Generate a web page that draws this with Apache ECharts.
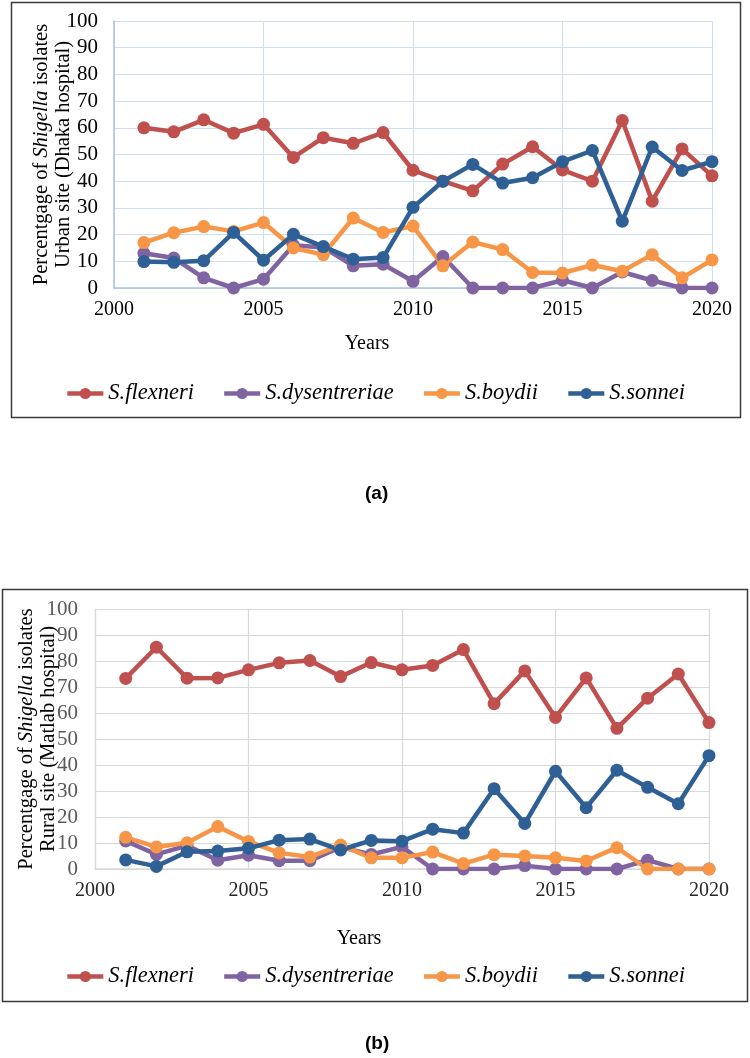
<!DOCTYPE html>
<html>
<head>
<meta charset="utf-8">
<script src="https://cdn.jsdelivr.net/npm/echarts@6/dist/echarts.min.js"></script>
<style>html,body{margin:0;padding:0;background:#fff}#c{width:750px;height:1058px}</style>
</head>
<body>
<div id="c"></div>
<script>
const years = [2001,2002,2003,2004,2005,2006,2007,2008,2009,2010,2011,2012,2013,2014,2015,2016,2017,2018,2019,2020];
const seriesNames = ['S.flexneri','S.dysentreriae','S.boydii','S.sonnei'];
const colors = ['#c0504d','#8064a2','#f79646','#2e5f95'];
const xTicks = [2000,2005,2010,2015,2020];
const yTicks = [0,10,20,30,40,50,60,70,80,90,100];

// (a) Urban site (Dhaka hospital)
const urbanFlexneri     = [60,58.5,63,58,61.3,48.9,56.3,54.2,58.2,44.1,40,36.4,46.4,52.9,44.2,40,62.7,32.5,52.1,42];
const urbanDysentreriae = [13,11.2,3.8,0,3.3,16,15.2,8.3,8.9,2.5,11.8,0,0,0,2.9,0,6,2.8,0,0];
const urbanBoydii       = [17,20.7,23,21.2,24.5,15,12.5,26.2,20.8,23.2,8.3,17.2,14.4,5.8,5.6,8.6,6.3,12.5,3.8,10.5];
const urbanSonnei       = [9.9,9.6,10.2,20.8,10.4,20.1,15.5,10.8,11.4,30.2,40,46.3,39.3,41.3,47.3,51.5,25,52.8,44,47.3];

// (b) Rural site (Matlab hospital)
const ruralFlexneri     = [73.3,85.3,73.4,73.5,76.6,79.3,80.2,74,79.4,76.6,78.3,84.4,63.6,76.2,58.3,73.5,54.1,65.7,75,56.3];
const ruralDysentreriae = [10.8,5.6,9,3.4,5.3,3.2,3.2,8.4,5.6,8.5,0,0,0,1.3,0,0,0,3.4,0,0];
const ruralBoydii       = [12.2,8.5,10.1,16.3,10.6,6.2,4.6,9.2,4.3,4.3,6.5,2.1,5.5,5,4.3,3.1,8.2,0,0,0];
const ruralSonnei       = [3.5,1,6.6,6.9,8,11.1,11.5,7.3,11,10.7,15.3,13.8,30.9,17.5,37.6,23.6,38,31.4,25.1,43.6];

const urbanData = [urbanFlexneri, urbanDysentreriae, urbanBoydii, urbanSonnei];
const ruralData = [ruralFlexneri, ruralDysentreriae, ruralBoydii, ruralSonnei];

const serif = '"Liberation Serif", "Times New Roman", serif';

function mkSeries(dataSets, idx) {
  return dataSets.map((arr, i) => ({
    name: seriesNames[i],
    type: 'line',
    xAxisIndex: idx, yAxisIndex: idx,
    data: years.map((y, k) => [y, arr[k]]),
    symbol: 'circle',
    symbolSize: 13,
    lineStyle: { width: 4.5, color: colors[i] },
    itemStyle: { color: colors[i] },
    emphasis: { disabled: true },
    animation: false
  }));
}

const chart = echarts.init(document.getElementById('c'), null, { renderer: 'canvas' });

const topGrid = '#cfdef2', topAxis = '#a9c3e6';
const botGrid = '#d9d9d9';

const legendBase = {
  data: seriesNames,
  itemWidth: 36, itemHeight: 14, itemGap: 28,
  left: 'center',
  lineStyle: { width: 4.5 },
  textStyle: { fontFamily: serif, fontStyle: 'italic', fontSize: 22.5, color: '#000' }
};

const yearFmt = v => String(v);

const titleRich = {
  a: { fontFamily: serif, fontSize: 20.5, color: '#000', lineHeight: 22 },
  i: { fontFamily: serif, fontSize: 20.5, color: '#000', fontStyle: 'italic', lineHeight: 22 }
};

const option = {
  backgroundColor: '#fff',
  color: colors,
  animation: false,
  textStyle: { fontFamily: serif },
  grid: [
    { left: 114, right: 38, top: 21, height: 267 },
    { left: 95, right: 41, top: 609, height: 260 }
  ],
  xAxis: [
    {
      gridIndex: 0, type: 'value', min: 2000, max: 2020, interval: 5,
      name: 'Years', nameLocation: 'middle', nameGap: 46, nameMoveOverlap: false,
      nameTextStyle: { fontFamily: serif, fontSize: 20, color: '#000', padding: [0, 92, 0, 0] },
      axisLine: { lineStyle: { color: topAxis, width: 1.5 } },
      axisTick: { show: false },
      axisLabel: { fontFamily: serif, fontSize: 20, color: '#000', margin: 12, formatter: yearFmt },
      splitLine: { show: true, lineStyle: { color: topGrid, width: 1 } }
    },
    {
      gridIndex: 1, type: 'value', min: 2000, max: 2020, interval: 5,
      name: 'Years', nameLocation: 'middle', nameGap: 60, nameMoveOverlap: false,
      nameTextStyle: { fontFamily: serif, fontSize: 20, color: '#000', padding: [0, 86, 0, 0] },
      axisLine: { lineStyle: { color: botGrid, width: 1.5 } },
      axisTick: { show: false },
      axisLabel: { fontFamily: serif, fontSize: 20, color: '#262626', margin: 12, formatter: yearFmt },
      splitLine: { show: true, lineStyle: { color: botGrid, width: 1.2 } }
    }
  ],
  yAxis: [
    {
      gridIndex: 0, type: 'value', min: 0, max: 100, interval: 10,
      name: '{a|Percentgage of }{i|Shigella}{a| isolates}\n{a|Urban site (Dhaka hospital)}',
      nameLocation: 'middle', nameGap: 39, nameRotate: 90, nameMoveOverlap: false,
      nameTextStyle: { align: 'center', rich: titleRich },
      axisLine: { show: true, lineStyle: { color: topAxis, width: 1.5 } },
      axisTick: { show: false },
      axisLabel: { fontFamily: serif, fontSize: 21, color: '#000', margin: 16 },
      splitLine: { show: true, lineStyle: { color: topGrid, width: 1 } }
    },
    {
      gridIndex: 1, type: 'value', min: 0, max: 100, interval: 10,
      name: '{a|Percentgage of }{i|Shigella}{a| isolates}\n{a|Rural site (Matlab hospital)}',
      nameLocation: 'middle', nameGap: 35, nameRotate: 90, nameMoveOverlap: false,
      nameTextStyle: { align: 'center', rich: titleRich },
      axisLine: { show: true, lineStyle: { color: botGrid, width: 1.2 } },
      axisTick: { show: false },
      axisLabel: { fontFamily: serif, fontSize: 21, color: '#595959', margin: 17 },
      splitLine: { show: true, lineStyle: { color: botGrid, width: 1.2 } }
    }
  ],
  legend: [
    Object.assign({}, legendBase, { top: 377 }),
    Object.assign({}, legendBase, { top: 960 })
  ],
  graphic: [
    { type: 'rect', silent: true, shape: { x: 11.5, y: 2.5, width: 729, height: 415 },
      style: { fill: 'none', stroke: '#3a3a3a', lineWidth: 1.5 } },
    { type: 'rect', silent: true, shape: { x: 2.5, y: 589.5, width: 745, height: 412 },
      style: { fill: 'none', stroke: '#3a3a3a', lineWidth: 1.5 } },
    { type: 'text', left: 365, top: 484,
      style: { text: '(a)', font: 'bold 19px "Liberation Sans Narrow", "Liberation Sans", sans-serif', fill: '#000' } },
    { type: 'text', left: 365, top: 1034,
      style: { text: '(b)', font: 'bold 19px "Liberation Sans Narrow", "Liberation Sans", sans-serif', fill: '#000' } }
  ],
  series: mkSeries(urbanData, 0).concat(mkSeries(ruralData, 1))
};

chart.setOption(option);
</script>
</body>
</html>
